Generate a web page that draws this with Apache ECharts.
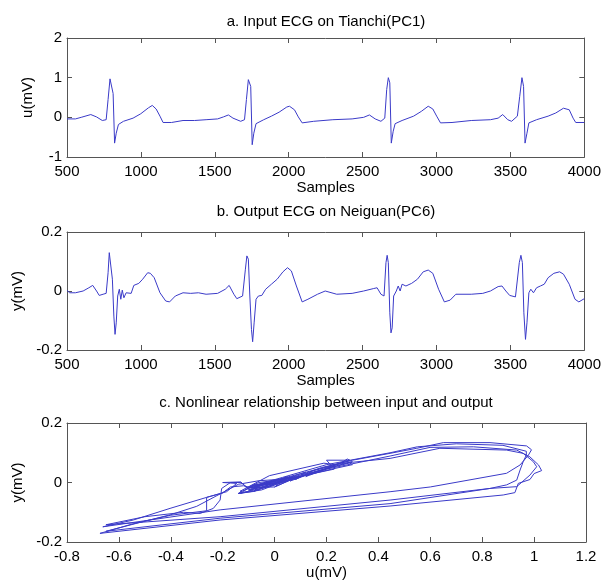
<!DOCTYPE html>
<html><head><meta charset="utf-8">
<script src="https://cdn.jsdelivr.net/npm/echarts@6/dist/echarts.min.js"></script>
<style>html,body{margin:0;padding:0;background:#fff}#c{width:604px;height:585px}</style>
</head><body><div id="c"></div>
<script>
// ---- Panel a: input ECG u(mV) vs samples ----
const aSamples = [500,557,596,661,700,739,765,778,791,804,812,822,833,848,882,947,999,1051,1077,1103,1129,1150,1207,1285,1363,1441,1519,1558,1592,1623,1675,1701,1714,1727,1735,1743,1753,1764,1779,1831,1883,1935,1987,2005,2039,2065,2091,2169,2299,2429,2507,2546,2585,2624,2650,2663,2674,2684,2694,2707,2720,2767,2845,2897,2944,2975,3001,3027,3105,3235,3365,3417,3448,3482,3508,3547,3563,3578,3589,3599,3612,3625,3677,3755,3807,3859,3898,3924,3942,4000];
const aU = [-0.04,-0.04,0.0,0.07,0.01,-0.08,-0.06,0.45,0.97,1.0,0.6,-0.65,-0.4,-0.18,-0.1,-0.02,0.09,0.24,0.3,0.21,0.03,-0.13,-0.13,-0.08,-0.08,-0.06,-0.04,0.01,0.06,-0.02,-0.1,-0.06,0.45,0.95,1.0,0.78,-0.69,-0.4,-0.16,-0.06,0.03,0.13,0.26,0.28,0.19,0.01,-0.14,-0.1,-0.06,-0.04,0.0,0.06,-0.04,-0.1,-0.02,0.7,1.0,0.87,-0.65,-0.35,-0.16,-0.08,0.03,0.15,0.28,0.21,0.03,-0.14,-0.13,-0.08,-0.06,-0.02,0.07,-0.06,-0.1,0.03,0.53,1.0,0.78,-0.65,-0.4,-0.14,-0.06,0.03,0.11,0.23,0.19,-0.02,-0.13,-0.13];

// ---- Panel b: output ECG y(mV) vs samples ----
const bSamples = [500,518,557,609,648,674,700,718,744,765,778,786,796,807,817,825,833,843,854,864,874,885,900,934,952,986,1012,1046,1064,1090,1129,1168,1194,1233,1285,1337,1389,1441,1519,1571,1597,1629,1649,1688,1707,1717,1727,1737,1748,1756,1766,1779,1795,1805,1818,1844,1883,1922,1961,1992,2018,2052,2091,2130,2195,2247,2325,2429,2507,2572,2598,2624,2645,2658,2666,2674,2684,2692,2700,2710,2728,2741,2754,2767,2793,2832,2871,2910,2944,2975,3014,3053,3092,3131,3235,3313,3365,3417,3443,3469,3495,3534,3560,3571,3581,3591,3602,3612,3625,3638,3656,3677,3703,3729,3755,3794,3833,3859,3898,3937,3963,4000];
const bY = [0.002,-0.006,-0.006,0,0.011,0.019,0,-0.015,-0.011,-0.008,0.062,0.13,0.125,0.04,-0.085,-0.147,-0.108,-0.017,0.006,-0.028,0.003,-0.023,-0.006,-0.008,0.019,0.026,0.04,0.062,0.06,0.045,-0.006,-0.034,-0.037,-0.017,-0.006,-0.008,-0.006,-0.011,-0.008,0.006,0.019,-0.011,-0.026,-0.017,0.074,0.119,0.108,-0.017,-0.13,-0.172,-0.108,-0.028,-0.017,-0.011,-0.015,0.006,0.023,0.04,0.065,0.079,0.068,0.017,-0.037,-0.028,-0.011,0,-0.011,-0.008,0,0.008,0.011,-0.011,-0.017,0.096,0.121,0.096,-0.074,-0.142,-0.125,-0.017,0,0.017,0,0.023,0.017,0.026,0.04,0.065,0.071,0.06,0.006,-0.037,-0.031,-0.011,-0.011,-0.008,0,0.015,0.017,0,-0.015,-0.02,0.096,0.121,0.096,-0.074,-0.164,-0.108,-0.006,0.006,-0.006,0.011,0.017,0.023,0.045,0.06,0.065,0.057,0.023,-0.028,-0.037,-0.026];

// ---- Panel c: y(mV) vs u(mV), one loop per beat, [u, y] ----
const loop1 = [[-0.05,-0.005],[0.0,-0.005],[0.07,0.02],[0.01,0.0],[-0.08,-0.015],[-0.06,-0.008],
  [0.1,0.03],[0.3,0.075],[0.445,0.098],[0.548,0.115],[0.65,0.134],[0.83,0.134],[0.971,0.123],[0.99,0.11],[0.978,0.092],[0.946,0.059],[0.894,0.031],[0.6,-0.015],[0.445,-0.031],[-0.21,-0.092],[-0.662,-0.149],
  [-0.544,-0.126],[-0.403,-0.087],[-0.262,-0.05],[-0.185,-0.031],[-0.146,-0.003],[-0.2,0.0],[-0.13,0.002],
  [-0.1,-0.025],[-0.06,-0.01],[-0.08,-0.03],[-0.02,-0.005],[0.03,0.005],[0.0,-0.015],[0.09,0.02],[0.06,0.005],[0.14,0.03],[0.12,0.02],[0.2,0.045],[0.24,0.06],[0.3,0.07],[0.21,0.05],[0.12,0.025],[0.03,0.0],[-0.05,-0.02],[-0.13,-0.035],[-0.08,-0.008],[-0.06,-0.006],
  [0.06,0.019],[-0.02,-0.011],[-0.1,-0.026],[-0.06,-0.017]];
const loop2 = [[0.2,0.045],[0.445,0.089],[0.599,0.118],[0.766,0.12],[0.933,0.109],[0.984,0.086],[1.017,0.059],[1.029,0.04],[1.0,0.03],[0.984,0.01],[0.939,-0.003],[0.926,-0.034],[0.881,-0.042],[0.445,-0.079],[-0.21,-0.126],[-0.673,-0.171],
  [-0.55,-0.14],[-0.4,-0.11],[-0.262,-0.095],[-0.262,-0.05],[-0.2,-0.035],[-0.17,-0.015],[-0.12,-0.011],
  [-0.08,-0.02],[0.0,0.005],[-0.03,-0.01],[0.05,0.015],[0.1,0.02],[0.08,0.01],[0.15,0.04],[0.22,0.055],[0.2,0.075],[0.29,0.075],[0.28,0.079],[0.26,0.068],[0.19,0.045],[0.1,0.02],[0.01,-0.005],[-0.05,-0.025],[-0.14,-0.037],
  [-0.1,-0.03],[-0.06,-0.011],[-0.04,-0.008],[0.0,0.0],[0.06,0.008],[0.0,-0.015],[-0.1,-0.017]];
const loop3 = [[0.1,0.025],[0.3,0.068],[0.445,0.081],[0.637,0.115],[0.894,0.109],[0.958,0.098],[0.997,0.07],[1.01,0.053],[0.984,0.025],[0.933,-0.014],[0.83,-0.02],[0.445,-0.059],[-0.21,-0.115],[-0.65,-0.142],
  [-0.5,-0.115],[-0.35,-0.1],[-0.287,-0.104],[-0.236,-0.087],[-0.21,-0.059],[-0.204,-0.02],[-0.17,0.0],[-0.13,0.0],
  [-0.1,-0.02],[-0.02,0.0],[0.05,0.02],[0.02,0.005],[0.12,0.035],[0.1,0.025],[0.18,0.05],[0.28,0.071],[0.3,0.06],[0.22,0.045],[0.1,0.02],[0.0,-0.005],[-0.08,-0.03],[-0.14,-0.037],
  [-0.13,-0.031],[-0.08,-0.011],[-0.06,-0.008],[0.07,0.015],[-0.06,0.0],[-0.1,-0.015],[0.03,0.017]];
const loop4 = [[0.2,0.06],[0.445,0.1],[0.55,0.12],[0.7,0.13],[0.88,0.125],[0.97,0.105],[0.97,0.092],[0.958,0.07],[0.946,0.042],[0.933,0.008],[0.894,-0.008],[0.83,-0.02],[0.445,-0.071],[-0.21,-0.12],[-0.65,-0.164],
  [-0.5,-0.13],[-0.4,-0.108],[-0.3,-0.08],[-0.14,-0.006],[-0.06,0.006],
  [0.03,0.011],[0.03,0.017],[0.11,0.023],[0.23,0.045],[0.23,0.06],[0.19,0.065],[-0.02,0.023],[-0.13,-0.028],[-0.13,-0.037],[-0.13,-0.026]];

// ---- axis ticks ----
const xTicksAB = {min: 500, max: 4000, interval: 500};
const yTicksA = {min: -1, max: 2, interval: 1};
const yTicksB = {min: -0.2, max: 0.2, interval: 0.2};
const xTicksC = {min: -0.8, max: 1.2, interval: 0.2};
const yTicksC = {min: -0.2, max: 0.2, interval: 0.2};

const titles = ['a. Input ECG on Tianchi(PC1)', 'b. Output ECG on Neiguan(PC6)', 'c. Nonlinear relationship between input and output'];

const FONT = 'Liberation Sans, Arial, sans-serif';
const FRAME = '#555';
const LINE = '#3a3ac8';

function fmt(v) {
  const r = Math.round(v * 1000) / 1000;
  return String(r);
}

function axis(kind, grid, ticks, pos, name, showLabel) {
  const a = {
    type: 'value', gridIndex: grid, position: pos,
    min: ticks.min, max: ticks.max, interval: ticks.interval,
    axisLine: {show: true, onZero: false, lineStyle: {color: FRAME, width: 1}},
    axisTick: {show: true, inside: true, length: 5, lineStyle: {color: FRAME, width: 1}},
    axisLabel: {show: showLabel, color: '#000', fontSize: 15, fontFamily: FONT, formatter: fmt,
      margin: kind === 'x' ? 7 : 5, showMinLabel: true, showMaxLabel: true},
    splitLine: {show: false}
  };
  if (name) {
    a.name = name; a.nameLocation = 'middle';
    a.nameGap = kind === 'x' ? 22 : 32;
    a.nameTextStyle = {color: '#000', fontSize: 15, fontFamily: FONT};
  }
  return a;
}

const grids = [
  {left: 67, right: 18, top: 38, height: 119},
  {left: 67, right: 18, top: 232, height: 118},
  {left: 67, right: 18, top: 423, height: 119}
];

const xAxes = [
  axis('x', 0, xTicksAB, 'bottom', 'Samples', true), axis('x', 0, xTicksAB, 'top', null, false),
  axis('x', 1, xTicksAB, 'bottom', 'Samples', true), axis('x', 1, xTicksAB, 'top', null, false),
  axis('x', 2, xTicksC, 'bottom', 'u(mV)', true), axis('x', 2, xTicksC, 'top', null, false)
];
const yAxes = [
  axis('y', 0, yTicksA, 'left', 'u(mV)', true), axis('y', 0, yTicksA, 'right', null, false),
  axis('y', 1, yTicksB, 'left', 'y(mV)', true), axis('y', 1, yTicksB, 'right', null, false),
  axis('y', 2, yTicksC, 'left', 'y(mV)', true), axis('y', 2, yTicksC, 'right', null, false)
];

const titleTops = [14, 204, 395];
const titleOpts = titles.map((t, i) => ({
  text: t, left: 326, top: titleTops[i], textAlign: 'center', padding: 0,
  textStyle: {fontSize: 15, fontWeight: 'normal', color: '#000', fontFamily: FONT}
}));

function lineSeries(xi, yi, data) {
  return {type: 'line', xAxisIndex: xi, yAxisIndex: yi, data: data, showSymbol: false,
    symbol: 'none', lineStyle: {color: LINE, width: 1}, itemStyle: {color: LINE}, animation: false, silent: true};
}

const dataA = aSamples.map((s, i) => [s, aU[i]]);
const dataB = bSamples.map((s, i) => [s, bY[i]]);
const dataC = loop1.concat(loop2, loop3, loop4);

const chart = echarts.init(document.getElementById('c'), null, {renderer: 'canvas'});
chart.setOption({
  animation: false,
  title: titleOpts,
  grid: grids,
  xAxis: xAxes,
  yAxis: yAxes,
  series: [lineSeries(0, 0, dataA), lineSeries(2, 2, dataB), lineSeries(4, 4, dataC)]
});
</script></body></html>
